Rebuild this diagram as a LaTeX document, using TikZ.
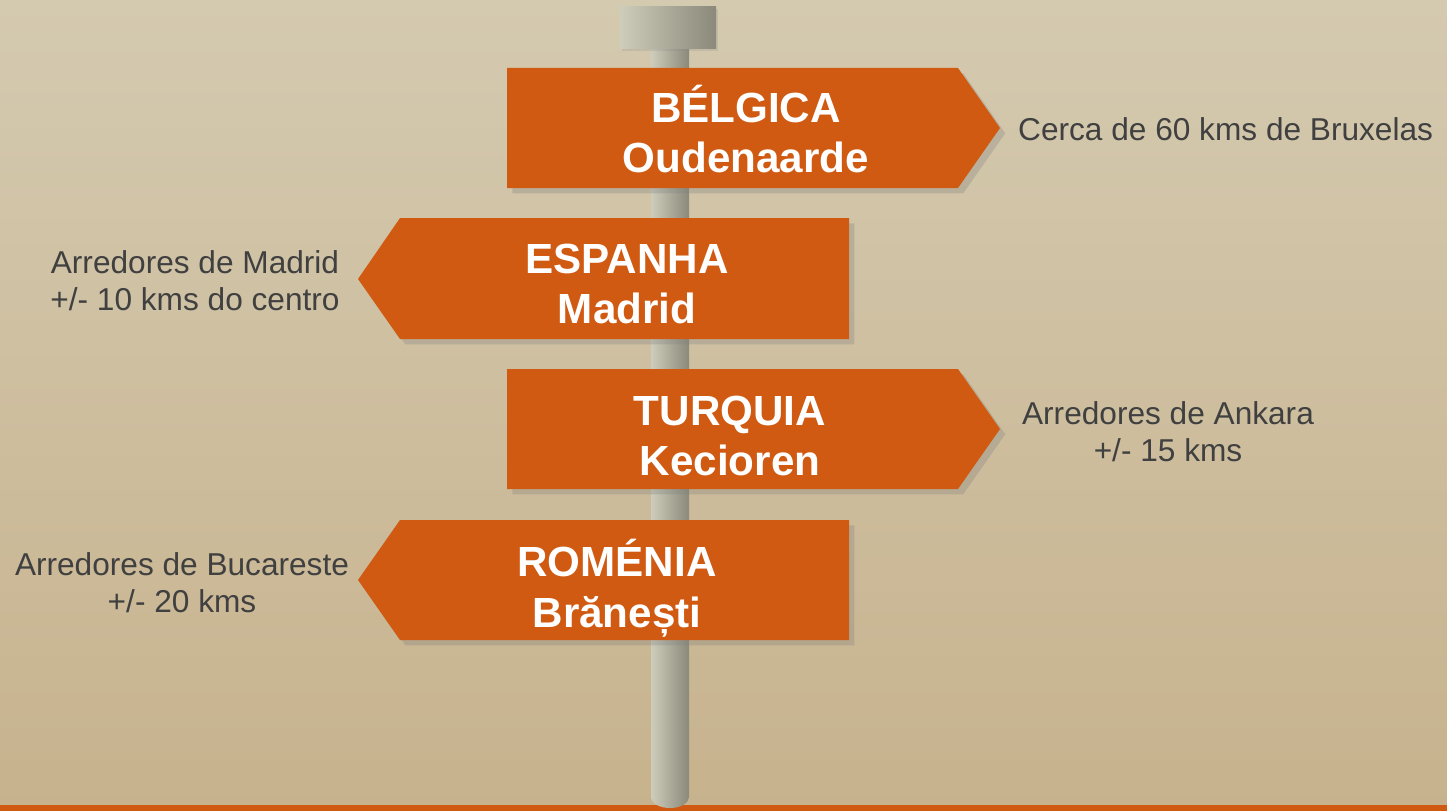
\documentclass[tikz,border=0pt]{standalone}
\usepackage{fontspec}
\setmainfont{Liberation Sans}
\usetikzlibrary{shadows}

\definecolor{laranja}{RGB}{208,90,18}
\definecolor{fundoalto}{RGB}{212,202,176}
\definecolor{fundobaixo}{RGB}{199,178,141}
\definecolor{postecl}{RGB}{206,205,187}
\definecolor{posteesc}{RGB}{138,137,122}
\definecolor{cinzento}{RGB}{64,64,64}

\tikzset{
  seta/.style={fill=laranja, drop shadow={shadow xshift=3pt, shadow yshift=-3pt, opacity=0.3}},
  poste/.style={left color=postecl, right color=posteesc},
  titulo/.style={text=white, font=\fontsize{24}{29}\selectfont\bfseries, align=center},
  nota/.style={text=cinzento, font=\fontsize{18}{21}\selectfont, align=center},
}

\begin{document}
\begin{tikzpicture}[x=0.02cm, y=-0.02cm]
    % Fundo
    \useasboundingbox (0,0) rectangle (1447,811);
    \shade[top color=fundoalto, bottom color=fundobaixo] (0,0) rectangle (1447,811);
    \fill[laranja] (0,805) rectangle (1447,811);

    % Poste
    \shade[poste] (651,49) -- (651,796) .. controls (651,812) and (689,812) .. (689,796) -- (689,49) -- cycle;
    \shade[poste, drop shadow={shadow xshift=1pt, shadow yshift=-1pt, opacity=0.2}] (620,7) rectangle (716,49);

    % Placas
    \path[seta] (507,68) -- (958,68) -- (1000,128) -- (958,188) -- (507,188) -- cycle;
    \path[seta] (849,218) -- (400,218) -- (358,279) -- (400,339) -- (849,339) -- cycle;
    \path[seta] (507,369) -- (958,369) -- (1000,429) -- (958,489) -- (507,489) -- cycle;
    \path[seta] (849,520) -- (400,520) -- (358,580) -- (400,640) -- (849,640) -- cycle;

    % Textos das placas
    \node[titulo] (belgica) at (746,129) {BÉLGICA\\Oudenaarde};
    \node[titulo] (espanha) at (627,284) {ESPANHA\\Madrid};
    \node[titulo] (turquia) at (730,436) {TURQUIA\\Kecioren};
    \node[titulo] (romenia) at (617,588) {ROMÉNIA\\Brănești};

    % Notas laterais
    \node[nota, anchor=west] (notabelgica) at (1012,129) {Cerca de 60 kms de Bruxelas};
    \node[nota] (notaespanha) at (195,281) {Arredores de Madrid\\+/- 10 kms do centro};
    \node[nota] (notaturquia) at (1168,432) {Arredores de Ankara\\+/- 15 kms};
    \node[nota] (notaromenia) at (182,583) {Arredores de Bucareste\\+/- 20 kms};
\end{tikzpicture}
\end{document}
